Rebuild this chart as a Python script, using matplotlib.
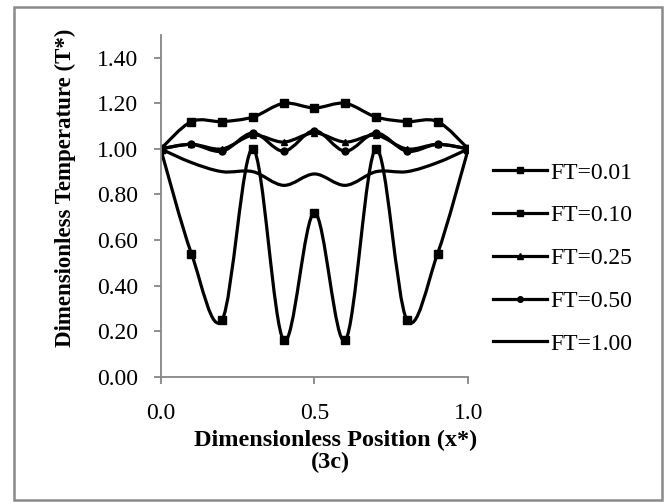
import numpy as np
import matplotlib
matplotlib.use("Agg")
import matplotlib.pyplot as plt
from matplotlib.path import Path
from matplotlib.patches import PathPatch, Rectangle
from matplotlib.lines import Line2D

plt.rcParams["font.family"] = ["Liberation Serif", "DejaVu Serif"]

x = [0.0, 0.1, 0.2, 0.3, 0.4, 0.5, 0.6, 0.7, 0.8, 0.9, 1.0]
ft001 = [1.00, 0.54, 0.25, 1.00, 0.16, 0.72, 0.16, 1.00, 0.25, 0.54, 1.00]
ft010 = [1.00, 1.12, 1.12, 1.14, 1.20, 1.18, 1.20, 1.14, 1.12, 1.12, 1.00]
ft025 = [1.00, 1.02, 1.00, 1.06, 1.03, 1.07, 1.03, 1.06, 1.00, 1.02, 1.00]
ft050 = [1.00, 1.02, 0.99, 1.07, 0.99, 1.08, 0.99, 1.07, 0.99, 1.02, 1.00]
ft100 = [1.00, 0.94, 0.90, 0.90, 0.84, 0.89, 0.84, 0.90, 0.90, 0.94, 1.00]

labels = ["FT=0.01", "FT=0.10", "FT=0.25", "FT=0.50", "FT=1.00"]
series = [ft001, ft010, ft025, ft050, ft100]
markers = ["s", "s", "^", "o", None]
msizes = [6, 6, 5, 5, 0]
yticks = [0.0, 0.2, 0.4, 0.6, 0.8, 1.0, 1.2, 1.4]
xticks = [0.0, 0.5, 1.0]


def smooth_path(xs, ys):
    # Excel-style smoothed line: cubic bezier through the points
    p = np.column_stack([xs, ys])
    ext = np.vstack([p[0], p, p[-1]])
    verts = [p[0]]
    codes = [Path.MOVETO]
    for i in range(len(p) - 1):
        p0, p1, p2, p3 = ext[i], ext[i + 1], ext[i + 2], ext[i + 3]
        verts += [p1 + (p2 - p0) / 6, p2 - (p3 - p1) / 6, p2]
        codes += [Path.CURVE4] * 3
    return Path(verts, codes)


fig = plt.figure(figsize=(6.69, 5.03), dpi=100)
ax = fig.add_axes([0.2402, 0.2511, 0.4598, 0.6793])

handles = []
for ys, lab, m, ms in zip(series, labels, markers, msizes):
    ax.add_patch(PathPatch(smooth_path(x, ys), fill=False, ec="black", lw=2.3,
                           capstyle="round", joinstyle="round"))
    if m:
        ax.plot(x, ys, ls="none", marker=m, ms=ms, color="black")
    handles.append(Line2D([], [], color="black", lw=2.3, marker=m,
                          ms=ms * 0.8 if m else 0))

ax.set_xlim(0, 1.0)
ax.set_ylim(0, 1.5)
ax.set_xticks(xticks)
ax.set_xticklabels([f"{v:.1f}" for v in xticks])
ax.set_yticks(yticks)
ax.set_yticklabels([f"{v:.2f}" for v in yticks])
for s in ["top", "right"]:
    ax.spines[s].set_visible(False)
for s in ["left", "bottom"]:
    ax.spines[s].set_color("#868686")
    ax.spines[s].set_linewidth(1.3)
ax.tick_params(axis="both", direction="out", length=5, width=1.3,
               color="#868686", labelsize=17)
ax.tick_params(axis="y", pad=11)
ax.tick_params(axis="x", pad=14)

fig.text(65 / 669, 1 - 188 / 503, "Dimensionless Temperature (T*)",
         rotation=90, ha="center", va="center", fontsize=16.5, fontweight="bold")
fig.text(336 / 669, 1 - 440 / 503, "Dimensionless Position (x*)",
         ha="center", va="center", fontsize=17.5, fontweight="bold")
fig.text(330 / 669, 1 - 462 / 503, "(3c)",
         ha="center", va="center", fontsize=17.5, fontweight="bold")

fig.legend(handles, labels, loc="upper left", bbox_to_anchor=(493 / 669, 1 - 162 / 503),
           frameon=False, fontsize=17, handlelength=2.3, handletextpad=0.15,
           labelspacing=0.9, borderpad=0, borderaxespad=0)

fig.patches.append(Rectangle((14 / 669, 3 / 503), 648 / 669, 493 / 503,
                             transform=fig.transFigure, fill=False,
                             ec="#898989", lw=1.8))

fig.savefig("out.png", dpi=100)
